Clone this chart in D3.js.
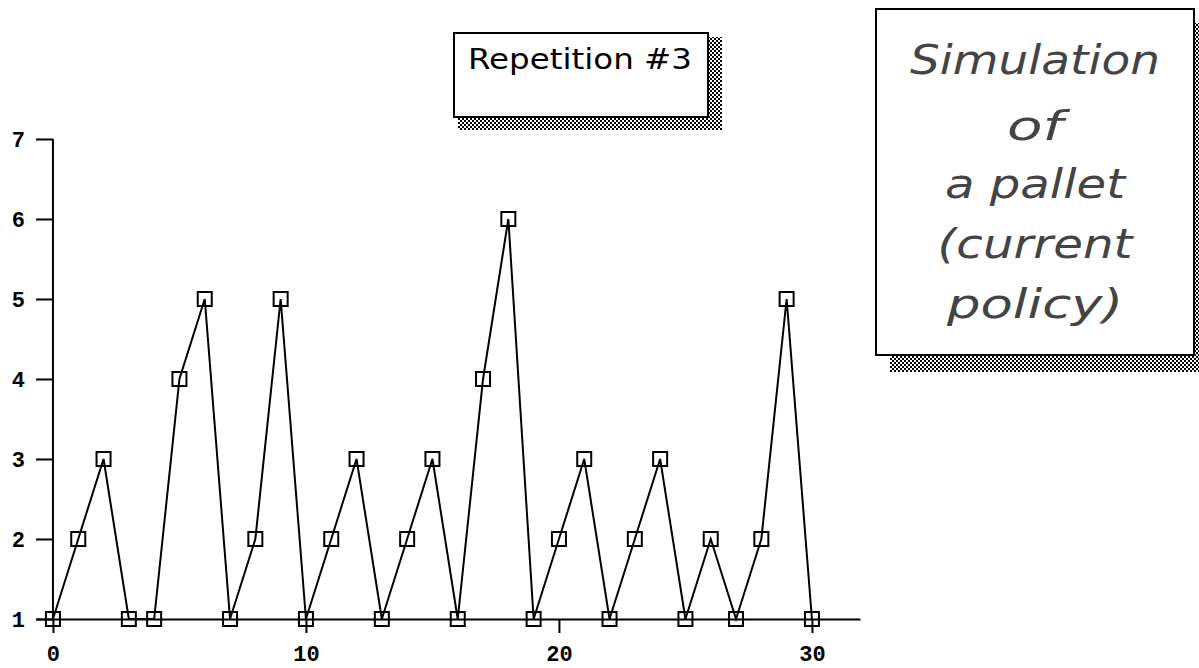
<!DOCTYPE html>
<html>
<head>
<meta charset="utf-8">
<script src="https://cdn.jsdelivr.net/npm/d3@7"></script>
<style>
  body { margin: 0; background: #fff; }
  svg { display: block; }
</style>
</head>
<body>
<div id="chart"></div>
<script>
// pallet count per period, repetition #3
var periods = d3.range(0, 31);
var pallets = [1, 2, 3, 1, 1, 4, 5, 1, 2, 5, 1, 2, 3, 1, 2, 3, 1, 4, 6, 1, 2, 3, 1, 2, 3, 1, 2, 1, 2, 5, 1];
var xTicks = [0, 10, 20, 30];
var yTicks = [1, 2, 3, 4, 5, 6, 7];
var repLabel = "Repetition #3";
var noteLines = ["Simulation", "of", "a pallet", "(current", "policy)"];

var width = 1199, height = 668;
var svg = d3.select("#chart").append("svg")
            .attr("width", width)
            .attr("height", height);

// checker pattern for the drop shadows
var defs = svg.append("defs");
var pat = defs.append("pattern")
              .attr("id", "checker")
              .attr("patternUnits", "userSpaceOnUse")
              .attr("width", 4).attr("height", 4);
pat.append("rect").attr("width", 4).attr("height", 4).attr("fill", "#fff");
pat.append("rect").attr("x", 0).attr("y", 0).attr("width", 2).attr("height", 2).attr("fill", "#000");
pat.append("rect").attr("x", 2).attr("y", 2).attr("width", 2).attr("height", 2).attr("fill", "#000");

var x = d3.scaleLinear().domain([-0.67, 31.9]).range([36, 860]);
var y = d3.scaleLinear().domain([1, 7]).range([619, 139]);

var tickFont = "'Liberation Mono', 'DejaVu Sans Mono', monospace";

// x axis
var xAxis = svg.append("g")
               .attr("transform", "translate(0," + y(1) + ")")
               .call(d3.axisBottom(x).tickValues(xTicks).tickFormat(d3.format("d"))
                     .tickSize(14).tickSizeOuter(0).tickPadding(12));
// y axis
var yAxis = svg.append("g")
               .attr("transform", "translate(" + x(0) + ",0)")
               .call(d3.axisLeft(y).tickValues(yTicks).tickFormat(d3.format("d"))
                     .tickSize(17).tickSizeOuter(0).tickPadding(11));

svg.selectAll(".domain, .tick line")
   .attr("stroke", "#000")
   .attr("stroke-width", 2);
// y domain should stop at 1 and 7 exactly
yAxis.select(".domain").attr("d", "M0," + y(7) + "V" + y(1));
svg.selectAll(".tick text")
   .attr("fill", "#000")
   .style("font-family", tickFont)
   .style("font-weight", "bold")
   .style("font-size", "22px");

// series line
var line = d3.line()
             .x(function(d, i) { return x(periods[i]); })
             .y(function(d) { return y(d); });

svg.append("path")
   .datum(pallets)
   .attr("d", line)
   .attr("fill", "none")
   .attr("stroke", "#000")
   .attr("stroke-width", 2);

// hollow square markers
var ms = 14;
svg.selectAll("rect.mk")
   .data(pallets)
   .enter().append("rect")
   .attr("class", "mk")
   .attr("x", function(d, i) { return x(periods[i]) - ms / 2; })
   .attr("y", function(d) { return y(d) - ms / 2; })
   .attr("width", ms)
   .attr("height", ms)
   .attr("fill", "none")
   .attr("stroke", "#000")
   .attr("stroke-width", 2);

// "Repetition #3" box
svg.append("rect")
   .attr("x", 458).attr("y", 37).attr("width", 264).attr("height", 93)
   .attr("fill", "url(#checker)");
svg.append("rect")
   .attr("x", 454).attr("y", 33).attr("width", 254).attr("height", 84)
   .attr("fill", "#fff").attr("stroke", "#000").attr("stroke-width", 2);
svg.append("text")
   .attr("x", 468).attr("y", 69)
   .attr("textLength", 224)
   .attr("lengthAdjust", "spacingAndGlyphs")
   .style("font-family", "'DejaVu Sans', sans-serif")
   .style("font-size", "28px")
   .text(repLabel);

// note box
svg.append("rect")
   .attr("x", 890).attr("y", 23).attr("width", 320).attr("height", 349)
   .attr("fill", "url(#checker)");
svg.append("rect")
   .attr("x", 876).attr("y", 9).attr("width", 318).attr("height", 346)
   .attr("fill", "#fff").attr("stroke", "#000").attr("stroke-width", 2);

var noteBase = [74, 140, 198, 258, 318];
var noteLen = [250, 56, 180, 195, 176];
svg.selectAll("text.note")
   .data(noteLines)
   .enter().append("text")
   .attr("class", "note")
   .attr("x", function(d, i) { return 1035 - noteLen[i] / 2; })
   .attr("y", function(d, i) { return noteBase[i]; })
   .attr("textLength", function(d, i) { return noteLen[i]; })
   .attr("lengthAdjust", "spacingAndGlyphs")
   .style("font-family", "'DejaVu Sans', 'Liberation Sans', sans-serif")
   .style("font-style", "italic")
   .style("font-weight", "200")
   .style("font-size", "40px")
   .attr("fill", "#444")
   .text(function(d) { return d; });
</script>
</body>
</html>
